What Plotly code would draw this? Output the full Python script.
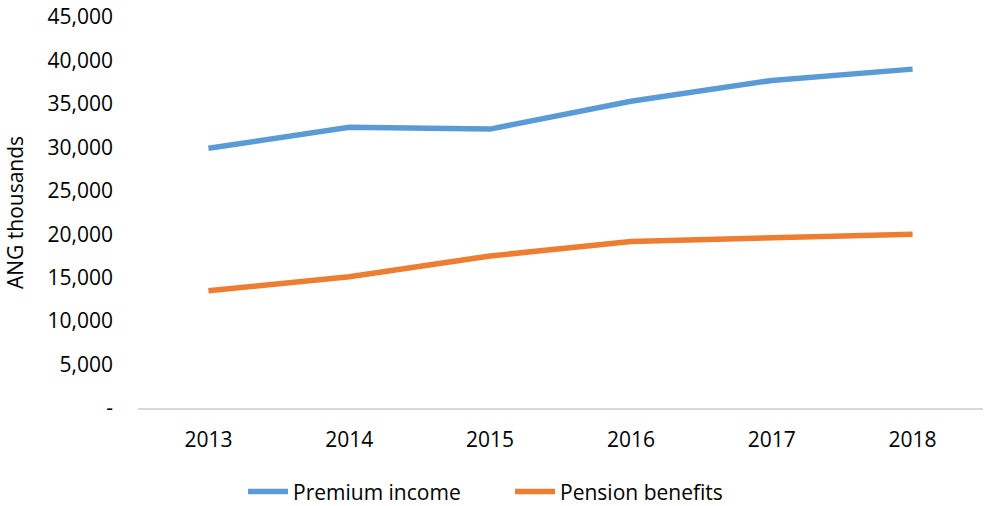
import plotly.graph_objects as go

# Annual figures, ANG thousands
years = ["2013", "2014", "2015", "2016", "2017", "2018"]
premium_income = [29900, 32300, 32100, 35300, 37700, 39000]
pension_benefits = [13500, 15100, 17500, 19150, 19600, 20000]

# y-axis ticks (zero shown as a dash)
y_tick_values = [0, 5000, 10000, 15000, 20000, 25000, 30000, 35000, 40000, 45000]
y_tick_labels = ["-", "5,000", "10,000", "15,000", "20,000", "25,000",
                 "30,000", "35,000", "40,000", "45,000"]

FONT = "Open Sans"
SIZE = 21

fig = go.Figure()
fig.add_trace(go.Scatter(
    x=years, y=premium_income, mode="lines", name="Premium income",
    line=dict(color="#5B9BD5", width=5.5),
))
fig.add_trace(go.Scatter(
    x=years, y=pension_benefits, mode="lines", name="Pension benefits",
    line=dict(color="#ED7D31", width=5.5),
))

fig.update_layout(
    width=984, height=506,
    margin=dict(l=138, r=1, t=17, b=98),
    paper_bgcolor="white", plot_bgcolor="white",
    font=dict(family=FONT, size=SIZE, color="#000000"),
    showlegend=True,
    legend=dict(
        orientation="h", xref="container", yref="container",
        x=0.247, xanchor="left", y=0.028, yanchor="middle",
        font=dict(family=FONT, size=SIZE, color="#000000"),
        itemwidth=40, tracegroupgap=0,
        entrywidth=212, entrywidthmode="pixels",
    ),
    xaxis=dict(
        type="category", range=[-0.5, 5.5],
        showgrid=False, zeroline=False,
        showline=True, linecolor="#d9d9d9", linewidth=2,
        ticks="", tickfont=dict(family=FONT, size=SIZE),
        ticklabelstandoff=12,
    ),
    yaxis=dict(
        range=[0, 45000], showgrid=False, zeroline=False, showline=False,
        tickvals=y_tick_values, ticktext=y_tick_labels, ticks="",
        tickfont=dict(family=FONT, size=SIZE),
        ticklabelstandoff=24,
        title=dict(text="ANG thousands", font=dict(family=FONT, size=SIZE), standoff=18),
    ),
)

fig.write_html("out.html")
